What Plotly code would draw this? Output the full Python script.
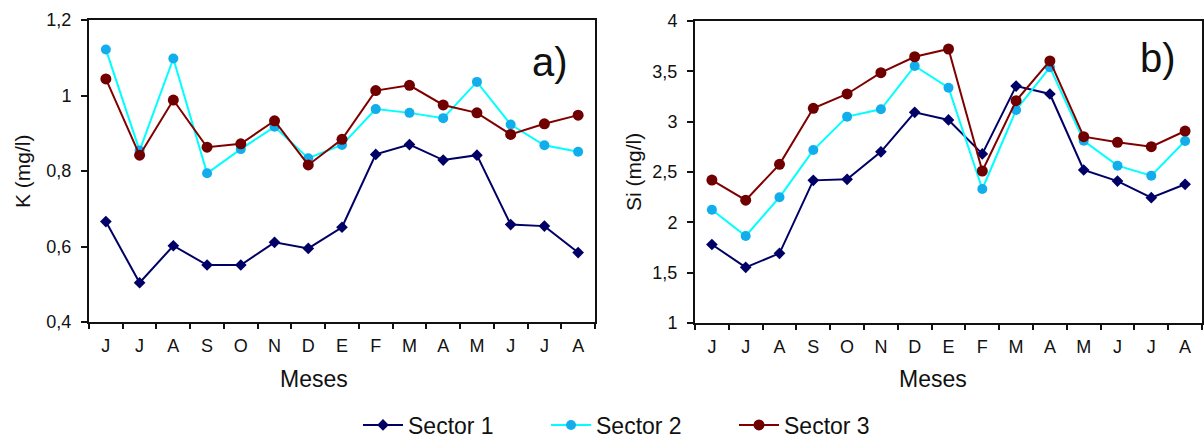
import plotly.graph_objects as go

months = ["J", "J", "A", "S", "O", "N", "D", "E", "F", "M", "A", "M", "J", "J", "A"]

k_sector1 = [0.666, 0.504, 0.602, 0.551, 0.551, 0.611, 0.595, 0.651, 0.844, 0.870, 0.829, 0.842, 0.658, 0.654, 0.584]
k_sector2 = [1.122, 0.854, 1.098, 0.794, 0.858, 0.917, 0.834, 0.869, 0.964, 0.954, 0.940, 1.036, 0.923, 0.868, 0.851]
k_sector3 = [1.044, 0.842, 0.988, 0.863, 0.872, 0.933, 0.816, 0.884, 1.013, 1.027, 0.975, 0.954, 0.897, 0.925, 0.948]

si_sector1 = [1.78, 1.553, 1.692, 2.417, 2.427, 2.70, 3.093, 3.017, 2.68, 3.354, 3.275, 2.52, 2.41, 2.245, 2.378]
si_sector2 = [2.125, 1.864, 2.249, 2.718, 3.05, 3.123, 3.553, 3.337, 2.331, 3.116, 3.54, 2.81, 2.563, 2.463, 2.808]
si_sector3 = [2.42, 2.22, 2.576, 3.133, 3.275, 3.487, 3.645, 3.722, 2.51, 3.208, 3.603, 2.851, 2.795, 2.751, 2.907]

k_ticks = [0.4, 0.6, 0.8, 1.0, 1.2]
k_ticktext = ["0,4", "0,6", "0,8", "1", "1,2"]
si_ticks = [1, 1.5, 2, 2.5, 3, 3.5, 4]
si_ticktext = ["1", "1,5", "2", "2,5", "3", "3,5", "4"]

names = ["Sector 1", "Sector 2", "Sector 3"]
line_colors = ["#000066", "#00FFFF", "#800000"]
marker_colors = ["#000066", "#12AEEC", "#700000"]
symbols = ["diamond", "circle", "circle"]
sizes = [9, 10, 11]

FONT = "Liberation Sans, Arial, sans-serif"
xs = list(range(len(months)))

fig = go.Figure()
for i, series in enumerate([k_sector1, k_sector2, k_sector3]):
    fig.add_trace(go.Scatter(
        x=xs, y=series, name=names[i], mode="lines+markers",
        line=dict(color=line_colors[i], width=2),
        marker=dict(symbol=symbols[i], size=sizes[i], color=marker_colors[i]),
        xaxis="x", yaxis="y", showlegend=True,
    ))
for i, series in enumerate([si_sector1, si_sector2, si_sector3]):
    fig.add_trace(go.Scatter(
        x=xs, y=series, name=names[i], mode="lines+markers",
        line=dict(color=line_colors[i], width=2),
        marker=dict(symbol=symbols[i], size=sizes[i], color=marker_colors[i]),
        xaxis="x2", yaxis="y2", showlegend=False,
    ))

W, H = 1204, 439
def px(x):
    return x / W
def py(y):
    return 1 - y / H

boundaries = [i - 0.5 for i in range(len(months) + 1)]
xcommon = dict(
    range=[-0.5, len(months) - 0.5], tickvals=xs, ticktext=months, ticks="",
    showgrid=False, zeroline=False, showline=True, linecolor="#111", linewidth=2,
    mirror=True, tickfont=dict(family=FONT, size=18, color="#111"),
    ticklabelstandoff=6, fixedrange=True, automargin=False,
    minor=dict(tickvals=boundaries, ticks="outside", ticklen=5, tickcolor="#111", tickwidth=1.5, showgrid=False),
)
ycommon = dict(
    showgrid=False, zeroline=False, showline=True, linecolor="#111", linewidth=2,
    mirror=True, ticks="outside", ticklen=6, tickcolor="#111", tickwidth=1.5,
    tickfont=dict(family=FONT, size=18, color="#111"), ticklabelstandoff=6,
    fixedrange=True, automargin=False,
)

fig.update_layout(
    width=W, height=H, margin=dict(l=0, r=0, t=0, b=0, autoexpand=False),
    paper_bgcolor="white", plot_bgcolor="white",
    font=dict(family=FONT, color="#111"),
    xaxis=dict(domain=[px(89), px(595)], anchor="y", **xcommon),
    yaxis=dict(domain=[py(322), py(20)], anchor="x", range=[0.4, 1.2],
               tickvals=k_ticks, ticktext=k_ticktext, **ycommon),
    xaxis2=dict(domain=[px(695), px(1202)], anchor="y2", **xcommon),
    yaxis2=dict(domain=[py(323), py(21)], anchor="x2", range=[1, 4],
                tickvals=si_ticks, ticktext=si_ticktext, **ycommon),
    legend=dict(orientation="h", x=px(358), xanchor="left", y=py(425), yanchor="middle",
                font=dict(family=FONT, size=23, color="#111"),
                entrywidth=133, entrywidthmode="pixels", itemwidth=40),
    showlegend=True,
)

annotations = [
    dict(text="a)", x=px(550), y=py(62), font=dict(size=40)),
    dict(text="b)", x=px(1158), y=py(58), font=dict(size=40)),
    dict(text="K (mg/l)", x=px(23), y=py(171), textangle=-90, font=dict(size=21)),
    dict(text="Si (mg/l)", x=px(633), y=py(172), textangle=-90, font=dict(size=21)),
    dict(text="Meses", x=px(314), y=py(379), font=dict(size=23)),
    dict(text="Meses", x=px(933), y=py(379), font=dict(size=23)),
]
for a in annotations:
    a.update(xref="paper", yref="paper", showarrow=False, xanchor="center", yanchor="middle")
    a["font"] = dict(family=FONT, color="#111", **a["font"])
fig.update_layout(annotations=annotations)

fig.write_html("out.html", config={"displayModeBar": False},
               post_script="document.body.style.margin='0';")
